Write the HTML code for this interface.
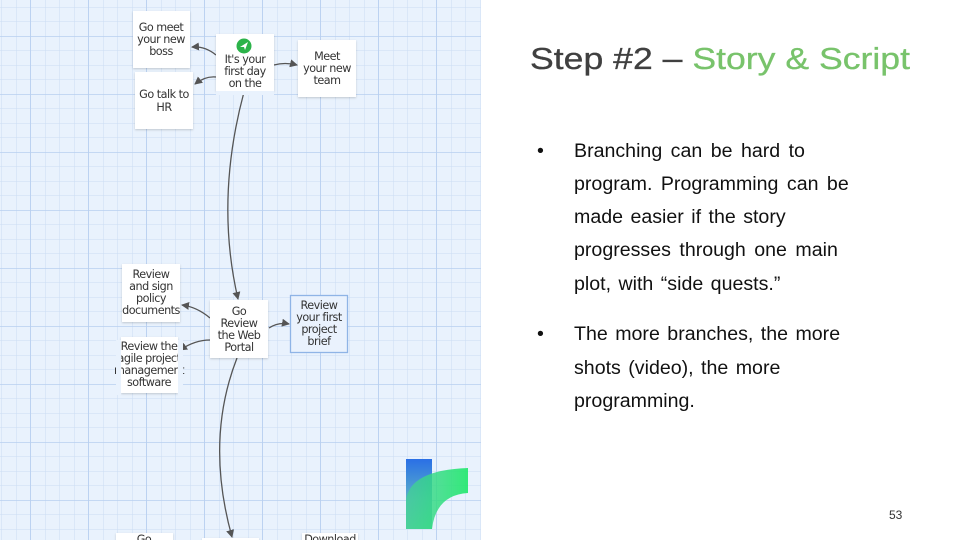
<!DOCTYPE html>
<html><head><meta charset="utf-8"><style>
html,body{margin:0;padding:0;background:#fff}
svg{display:block}
</style></head><body>
<svg width="960" height="540" viewBox="0 0 960 540" xmlns="http://www.w3.org/2000/svg" font-family="Liberation Sans, sans-serif">
<defs>
<pattern id="minor" x="1.5" y="7" width="14.5" height="14.5" patternUnits="userSpaceOnUse">
<path d="M0 0H14.5M0 0V14.5" stroke="#cadcf4" stroke-width="1" fill="none"/>
</pattern>
<pattern id="major" x="30" y="36" width="58" height="58" patternUnits="userSpaceOnUse">
<path d="M0 0H58M0 0V58" stroke="#b8cff0" stroke-width="1.5" fill="none"/>
</pattern>
<marker id="ah" markerWidth="8" markerHeight="8" refX="7" refY="4" orient="auto" markerUnits="userSpaceOnUse">
<path d="M0 0L8 4L0 8z" fill="#555"/>
</marker>
<filter id="sh" x="-10%" y="-10%" width="130%" height="130%"><feDropShadow dx="0" dy="1" stdDeviation="1" flood-color="#000" flood-opacity="0.18"/></filter>
<linearGradient id="gb" x1="0" y1="0" x2="0" y2="1"><stop offset="0" stop-color="#2a6fe6"/><stop offset="0.6" stop-color="#5db3c8"/><stop offset="1" stop-color="#5fd6a0"/></linearGradient>
<linearGradient id="gg" x1="0" y1="0" x2="1" y2="0"><stop offset="0" stop-color="#44cf98" stop-opacity="0.85"/><stop offset="1" stop-color="#1ee86a"/></linearGradient>
</defs>
<rect x="0" y="0" width="481" height="540" fill="#e9f2fd"/>
<rect x="0" y="0" width="481" height="540" fill="url(#minor)"/>
<rect x="0" y="0" width="481" height="540" fill="url(#major)"/>

<g fill="none" stroke="#555" stroke-width="1.3" marker-end="url(#ah)">
<path d="M216 55 Q205 46 192 47"/>
<path d="M216 77 Q205 76 195 84"/>
<path d="M274 65 Q285 62 297 65"/>
<path d="M244 92 Q215 200 238 299"/>
<path d="M210 318 Q197 307 182 305"/>
<path d="M210 340 Q195 340 180 350"/>
<path d="M269 328 Q278 322 289 324"/>
<path d="M237 358 Q205 440 232 537"/>
</g>

<g filter="url(#sh)" fill="#fff">
<rect x="133" y="11" width="57" height="57"/>
<rect x="216" y="34" width="58" height="57"/>
<rect x="298" y="40" width="58" height="57"/>
<rect x="135" y="72" width="58" height="57"/>
<rect x="122" y="264" width="58" height="58"/>
<rect x="210" y="300" width="58" height="58"/>
<rect x="121" y="337" width="57" height="56"/>
<rect x="116" y="533" width="57" height="20"/>
<rect x="202" y="538" width="57" height="20"/>
<rect x="302" y="533" width="56" height="20"/>
</g>
<rect x="290.5" y="295.5" width="57" height="57" fill="#eaf2fd" stroke="#8fb4e6" stroke-width="1.3"/>
<circle cx="244" cy="46" r="7.5" fill="#2cb34a"/>
<path d="M240 47 L248 42 L245 50 L244 47 Z" fill="#fff"/>

<g font-size="11.2" fill="#333" text-anchor="middle" font-family="DejaVu Sans, sans-serif" letter-spacing="-0.5">
<text x="161" y="31">Go meet</text><text x="161" y="43">your new</text><text x="161" y="55">boss</text>
<text x="245" y="63">It's your</text><text x="245" y="75">first day</text><text x="245" y="87">on the</text>
<text x="327" y="60">Meet</text><text x="327" y="72">your new</text><text x="327" y="84">team</text>
<text x="164" y="98">Go talk to</text><text x="164" y="111">HR</text>
<text x="151" y="278">Review</text><text x="151" y="290">and sign</text><text x="151" y="302">policy</text><text x="151" y="314">documents</text>
<text x="239" y="315">Go</text><text x="239" y="327">Review</text><text x="239" y="339">the Web</text><text x="239" y="351">Portal</text>
<text x="319" y="309">Review</text><text x="319" y="321">your first</text><text x="319" y="333">project</text><text x="319" y="345">brief</text>
<text x="149" y="350">Review the</text><text x="149" y="362">agile project</text><text x="149" y="374">management</text><text x="149" y="386">software</text>
<text x="144" y="543">Go</text>
<text x="330" y="543">Download</text>
</g>
<rect x="116" y="340" width="5" height="55" fill="#e9f2fd"/>
<rect x="178" y="340" width="5" height="55" fill="#e9f2fd"/>
<rect x="216" y="91" width="58" height="4" fill="#e9f2fd"/>

<rect x="406" y="459" width="26" height="70" fill="url(#gb)"/>
<path d="M406 529 L406 500 Q410 470 468 468 L468 493 Q436 495 432 529 Z" fill="url(#gg)" opacity="0.9"/>

<text x="530" y="69" font-size="31" textLength="380" lengthAdjust="spacingAndGlyphs" fill="#404040" stroke="#404040" stroke-width="0.3">Step #2 – <tspan fill="#78c36b" stroke="#78c36b">Story &amp; Script</tspan></text>

<g font-size="19.6" fill="#111">
<text x="537" y="157">•</text>
<text x="574" y="157" word-spacing="3">Branching  can be hard to</text>
<text x="574" y="190" word-spacing="3">program.  Programming  can be</text>
<text x="574" y="223" word-spacing="2">made easier if the story</text>
<text x="574" y="256" word-spacing="3">progresses through  one main</text>
<text x="574" y="290" word-spacing="2">plot, with “side quests.”</text>
<text x="537" y="340">•</text>
<text x="574" y="340" word-spacing="2">The more branches, the more</text>
<text x="574" y="374" word-spacing="2">shots (video), the more</text>
<text x="574" y="407">programming.</text>
</g>
<text x="889" y="519" font-size="12" fill="#333">53</text>
</svg>
</body></html>
